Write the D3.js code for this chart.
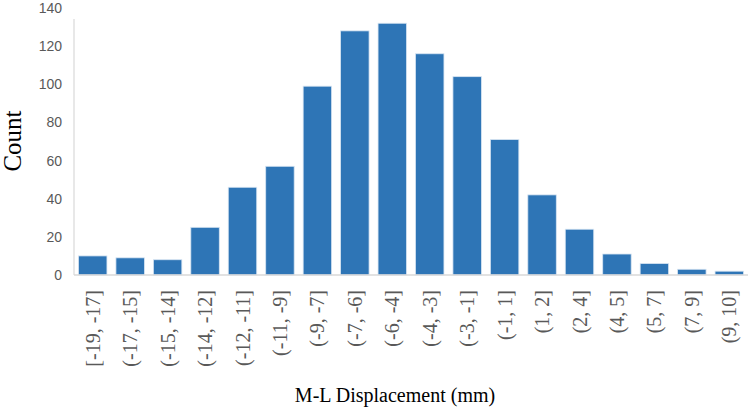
<!DOCTYPE html>
<html>
<head>
<meta charset="utf-8">
<script src="https://cdn.jsdelivr.net/npm/d3@7"></script>
<style>
  body { margin: 0; background: #fff; }
  .ytick text { font-family: "Liberation Sans", sans-serif; font-size: 14px; fill: #595959; }
  .xtick text { font-family: "Liberation Serif", serif; font-size: 20px; fill: #595959; }
  .axisTitle { font-family: "Liberation Serif", serif; fill: #000; }
</style>
</head>
<body>
<script>
'use strict'
const categories = ["[-19, -17]", "(-17, -15]", "(-15, -14]", "(-14, -12]", "(-12, -11]", "(-11, -9]",
  "(-9, -7]", "(-7, -6]", "(-6, -4]", "(-4, -3]", "(-3, -1]", "(-1, 1]", "(1, 2]", "(2, 4]",
  "(4, 5]", "(5, 7]", "(7, 9]", "(9, 10]"];
const counts = [10, 9, 8, 25, 46, 57, 99, 128, 132, 116, 104, 71, 42, 24, 11, 6, 3, 2];
const yTicks = [0, 20, 40, 60, 80, 100, 120, 140];

const w = 750;
const h = 411;
const plotLeft = 74, plotRight = 748, plotTop = 8, base = 275;

const svg = d3.select("body").append("svg")
  .attr("width", w)
  .attr("height", h);

const xScale = d3.scaleBand()
  .domain(categories)
  .range([plotLeft, plotRight])
  .paddingInner(0.24)
  .paddingOuter(0.12);

const yScale = d3.scaleLinear()
  .domain([0, 140])
  .range([base, plotTop]);

// bars
svg.selectAll("rect.bar")
  .data(counts)
  .enter()
  .append("rect")
  .attr("class", "bar")
  .attr("fill", "#2e75b6")
  .attr("stroke", "#d6e4f2")
  .attr("stroke-width", 0.8)
  .attr("x", (d, i) => xScale(categories[i]))
  .attr("y", d => yScale(d))
  .attr("width", xScale.bandwidth())
  .attr("height", d => base - yScale(d));

// axis lines
svg.append("line")
  .attr("x1", plotLeft).attr("x2", plotLeft)
  .attr("y1", plotTop + 11).attr("y2", base)
  .attr("stroke", "#d9d9d9").attr("stroke-width", 1.2);
svg.append("line")
  .attr("x1", plotLeft).attr("x2", plotRight)
  .attr("y1", base).attr("y2", base)
  .attr("stroke", "#d9d9d9").attr("stroke-width", 1.5);

// y tick labels
svg.append("g").attr("class", "ytick")
  .selectAll("text")
  .data(yTicks)
  .enter()
  .append("text")
  .attr("x", 62)
  .attr("y", d => yScale(d))
  .attr("dy", "0.36em")
  .attr("text-anchor", "end")
  .text(d => d);

// x tick labels, rotated
svg.append("g").attr("class", "xtick")
  .selectAll("text")
  .data(categories)
  .enter()
  .append("text")
  .attr("transform", d => "translate(" + (xScale(d) + xScale.bandwidth() / 2) + "," + 290 + ") rotate(-90)")
  .attr("dy", "0.35em")
  .attr("text-anchor", "end")
  .text(d => d);

svg.append("text")
  .attr("class", "axisTitle")
  .attr("transform", "translate(12," + 141 + ") rotate(-90)")
  .attr("text-anchor", "middle")
  .attr("dy", "0.35em")
  .style("font-size", "25px")
  .text("Count");

svg.append("text")
  .attr("class", "axisTitle")
  .attr("x", 395)
  .attr("y", 402)
  .attr("text-anchor", "middle")
  .style("font-size", "20px")
  .text("M-L Displacement (mm)");
</script>
</body>
</html>
